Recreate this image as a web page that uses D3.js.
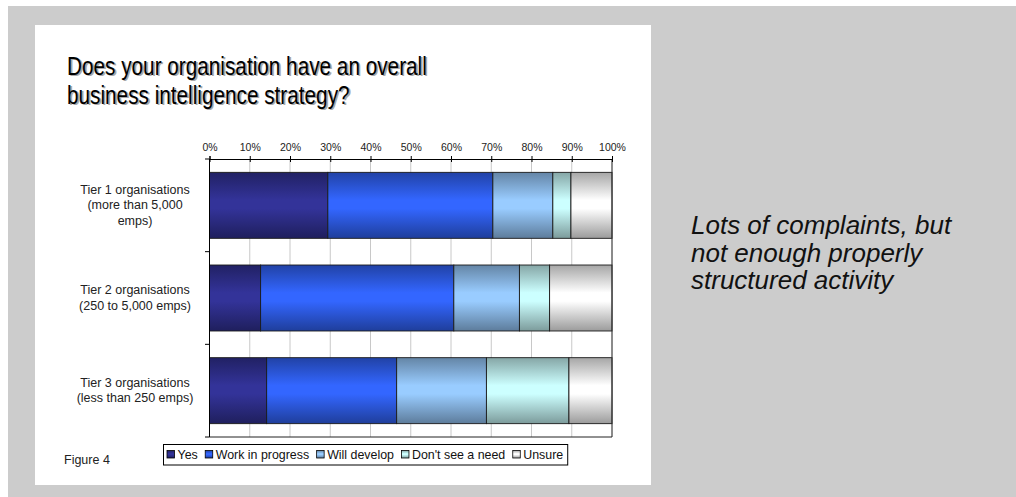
<!DOCTYPE html>
<html>
<head>
<meta charset="utf-8">
<script src="https://cdn.jsdelivr.net/npm/d3@7"></script>
<style>
  html, body { margin: 0; padding: 0; background: #ffffff; }
  svg { display: block; font-family: Arial, "Liberation Sans", Helvetica, sans-serif; }
</style>
</head>
<body>
<svg id="chart" width="1016" height="497"></svg>
<script>
// Survey categories (each label split into its display lines)
const categories = ["Tier 1", "Tier 2", "Tier 3"];
const categoryLines = [
  ["Tier 1 organisations", "(more than 5,000", "emps)"],
  ["Tier 2 organisations", "(250 to 5,000 emps)"],
  ["Tier 3 organisations", "(less than 250 emps)"]
];

// Response series (percent of respondents per tier)
const seriesNames = ["Yes", "Work in progress", "Will develop", "Don't see a need", "Unsure"];
const yesValues        = [29.4, 12.7, 14.2];
const wipValues        = [41.0, 48.0, 32.3];
const willDevelopVals  = [14.9, 16.3, 22.3];
const dontSeeNeedVals  = [4.5, 7.5, 20.5];
const unsureValues     = [10.2, 15.5, 10.7];

const tickValues = [0, 10, 20, 30, 40, 50, 60, 70, 80, 90, 100];

const seriesColors = ["#333399", "#3366ff", "#99ccff", "#ccffff", "#ffffff"];

const svg = d3.select("#chart");

// Slide background and white content panel
svg.append("rect").attr("x", 8).attr("y", 6).attr("width", 1008).attr("height", 491).attr("fill", "#cccccc");
svg.append("rect").attr("x", 35).attr("y", 25).attr("width", 616).attr("height", 460).attr("fill", "#ffffff");

// Title (condensed face) with a soft drop shadow
const titleLines = ["Does your organisation have an overall", "business intelligence strategy?"];
const title = svg.append("g").attr("transform", "translate(67,0) scale(0.83,1)");
title.selectAll("text.shadow").data(titleLines).join("text")
  .attr("class", "shadow")
  .attr("x", 2).attr("y", (d, i) => 75 + i * 29 + 1.5)
  .attr("font-size", 25).attr("fill", "#a8a8a8")
  .text(d => d);
title.selectAll("text.main").data(titleLines).join("text")
  .attr("class", "main")
  .attr("x", 0).attr("y", (d, i) => 75 + i * 29)
  .attr("font-size", 25).attr("fill", "#000")
  .text(d => d);

// Side comment
const commentLines = ["Lots of complaints, but", "not enough properly", "structured activity"];
svg.append("g").selectAll("text").data(commentLines).join("text")
  .attr("x", 691).attr("y", (d, i) => 234 + i * 27.5)
  .attr("font-size", 26).attr("font-style", "italic").attr("fill", "#111")
  .text(d => d);

// Scales
const x = d3.scaleLinear().domain([0, 100]).range([209.5, 612]);
const y = d3.scaleBand().domain(categories).range([159, 437]).paddingInner(0.288).paddingOuter(0.144);

// Stack the series
const table = categories.map((c, i) => ({
  cat: c,
  "Yes": yesValues[i],
  "Work in progress": wipValues[i],
  "Will develop": willDevelopVals[i],
  "Don't see a need": dontSeeNeedVals[i],
  "Unsure": unsureValues[i]
}));
const stacked = d3.stack().keys(seriesNames)(table);

// Cylinder-like vertical gradients for each series
const defs = svg.append("defs");
seriesColors.forEach((c, i) => {
  const base = d3.color(c);
  const g = defs.append("linearGradient").attr("id", "grad" + i)
    .attr("x1", 0).attr("y1", 0).attr("x2", 0).attr("y2", 1);
  g.append("stop").attr("offset", "0%").attr("stop-color", base.darker(1.2));
  g.append("stop").attr("offset", "42%").attr("stop-color", base);
  g.append("stop").attr("offset", "55%").attr("stop-color", base);
  g.append("stop").attr("offset", "100%").attr("stop-color", base.darker(1.4));
});

// Gridlines
const plot = svg.append("g");
plot.selectAll("line.grid").data(tickValues).join("line")
  .attr("class", "grid")
  .attr("x1", d => x(d)).attr("x2", d => x(d))
  .attr("y1", 159).attr("y2", 437)
  .attr("stroke", "#c8c8c8").attr("stroke-width", 1);

// Bars
plot.selectAll("g.series").data(stacked).join("g")
  .attr("class", "series")
  .attr("fill", (d, i) => `url(#grad${i})`)
  .selectAll("rect").data(d => d).join("rect")
  .attr("x", d => x(d[0]))
  .attr("y", d => y(d.data.cat))
  .attr("width", d => x(d[1]) - x(d[0]))
  .attr("height", y.bandwidth())
  .attr("stroke", "#1a1a1a").attr("stroke-width", 0.9);

// Plot frame (right and bottom)
plot.append("line").attr("x1", 612).attr("x2", 612).attr("y1", 159).attr("y2", 437).attr("stroke", "#333");
plot.append("line").attr("x1", 209.5).attr("x2", 612).attr("y1", 437).attr("y2", 437).attr("stroke", "#222");

// Top percentage axis
const xAxis = d3.axisTop(x).tickValues(tickValues).tickFormat(d => d + "%").tickSize(3).tickPadding(5);
const gx = svg.append("g").attr("transform", "translate(0,159)").call(xAxis);
gx.select(".domain").attr("stroke", "#000");
gx.selectAll(".tick line").attr("stroke", "#000").attr("y2", 3).attr("y1", -3);
gx.selectAll(".tick text").attr("font-size", 10.5).attr("fill", "#222")
  .attr("font-family", "Arial, 'Liberation Sans', sans-serif");

// Left category axis with ticks at band boundaries
const boundaries = [159, 159 + y.step(), 159 + 2 * y.step(), 437];
svg.append("line").attr("x1", 209.5).attr("x2", 209.5).attr("y1", 159).attr("y2", 437).attr("stroke", "#000");
svg.selectAll("line.ytick").data(boundaries).join("line")
  .attr("class", "ytick")
  .attr("x1", 205).attr("x2", 209.5).attr("y1", d => d).attr("y2", d => d)
  .attr("stroke", "#000");

// Category labels
const lineStep = 15.5;
const catLabel = svg.append("g").selectAll("text").data(categories).join("text")
  .attr("text-anchor", "middle")
  .attr("font-size", 12.5).attr("fill", "#222");
catLabel.each(function(c, i) {
  const lines = categoryLines[i];
  const cy = y(c) + y.bandwidth() / 2;
  const first = cy - (lines.length - 1) * lineStep / 2 + 4;
  d3.select(this).selectAll("tspan").data(lines).join("tspan")
    .attr("x", 135).attr("y", (d, j) => first + j * lineStep)
    .text(d => d);
});

// Figure caption
svg.append("text").attr("x", 64).attr("y", 464).attr("font-size", 12.5).attr("fill", "#222").text("Figure 4");

// Legend: items laid out left to right from their measured text widths
const legend = svg.append("g");
const legendBox = legend.append("rect").attr("y", 444.5).attr("height", 20.5)
  .attr("fill", "#fff").attr("stroke", "#000");
let cursor = 167;
let textEnd = cursor;
seriesNames.forEach((name, i) => {
  legend.append("rect").attr("x", cursor).attr("y", 450.5).attr("width", 7.5).attr("height", 7.5)
    .attr("fill", `url(#grad${i})`).attr("stroke", "#000").attr("stroke-width", 0.8);
  const t = legend.append("text").attr("x", cursor + 10.5).attr("y", 459)
    .attr("font-size", 12.4).attr("fill", "#111").text(name);
  textEnd = cursor + 10.5 + t.node().getComputedTextLength();
  cursor = textEnd + 7.5;
});
legendBox.attr("x", 163.5).attr("width", textEnd + 4.5 - 163.5);
</script>
</body>
</html>
